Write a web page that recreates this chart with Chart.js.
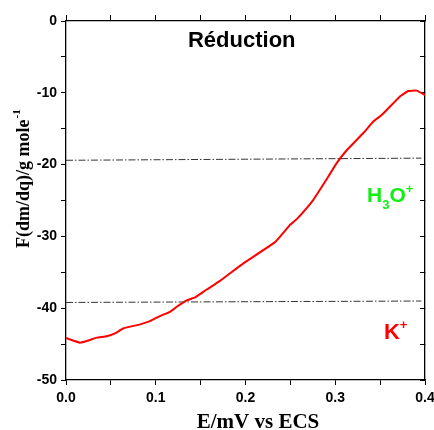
<!DOCTYPE html>
<html>
<head>
<meta charset="utf-8">
<script src="https://cdn.jsdelivr.net/npm/chart.js@4"></script>
<style>
  html, body { margin: 0; padding: 0; background: #fff; }
  canvas { display: block; }
</style>
</head>
<body>
<canvas id="chart" width="434" height="430"></canvas>
<script>
// curve (E in V, F in g/mol)
const curveE = [0.000, 0.0156, 0.0249, 0.0342, 0.0453, 0.0546, 0.0641, 0.0825, 0.0936, 0.1047,
                0.1159, 0.1234, 0.1345, 0.1438, 0.1568, 0.1716, 0.1976, 0.2329, 0.2496, 0.2571,
                0.2756, 0.2886, 0.3016, 0.3128, 0.3313, 0.3424, 0.3517, 0.3721, 0.3814, 0.3908, 0.4000];
const curveF = [-44.15, -44.8, -44.5, -44.1, -43.9, -43.5, -42.8, -42.25, -41.8, -41.1,
                -40.5, -39.8, -38.9, -38.5, -37.4, -36.2, -33.75, -30.8, -28.4, -27.6,
                -24.9, -22.4, -19.8, -18.0, -15.6, -14.0, -13.1, -10.5, -9.75, -9.7, -10.3];

// dash-dot reference levels
const levelE = [0, 0.396];
const levelH3O = [-19.4, -19.1];
const levelK = [-39.2, -39.0];

const xTicks = { min: 0, max: 0.4, step: 0.05 };
const yTicks = { min: -50, max: 0, step: 5 };

const toPoints = (xs, ys) => xs.map((x, i) => ({ x: x, y: ys[i] }));

const tickFont = { family: 'Liberation Sans, Arial, sans-serif', size: 14, weight: 'bold' };

// titles and labels drawn on top, placed with the scales
const textPlugin = {
  id: 'texts',
  afterDraw(chart) {
    const ctx = chart.ctx;
    const xs = chart.scales.x;
    const ys = chart.scales.y;
    ctx.save();
    ctx.textBaseline = 'alphabetic';

    // Réduction
    ctx.fillStyle = '#000';
    ctx.font = 'bold 22px Liberation Sans, Arial, sans-serif';
    ctx.textAlign = 'center';
    ctx.fillText('Réduction', xs.getPixelForValue(0.1958), ys.getPixelForValue(-3.62));

    // H3O+
    ctx.textAlign = 'left';
    ctx.fillStyle = '#11ee11';
    let x = xs.getPixelForValue(0.3354);
    let y = ys.getPixelForValue(-25.2);
    ctx.font = 'bold 21px Liberation Sans, Arial, sans-serif';
    ctx.fillText('H', x, y);
    x += ctx.measureText('H').width;
    ctx.font = 'bold 13px Liberation Sans, Arial, sans-serif';
    ctx.fillText('3', x, y + 7);
    x += ctx.measureText('3').width;
    ctx.font = 'bold 21px Liberation Sans, Arial, sans-serif';
    ctx.fillText('O', x, y);
    x += ctx.measureText('O').width;
    ctx.font = 'bold 13px Liberation Sans, Arial, sans-serif';
    ctx.fillText('+', x, y - 9);

    // K+
    ctx.fillStyle = '#ff0000';
    x = xs.getPixelForValue(0.3543);
    y = ys.getPixelForValue(-44.3);
    ctx.font = 'bold 22px Liberation Sans, Arial, sans-serif';
    ctx.fillText('K', x, y);
    x += ctx.measureText('K').width;
    ctx.font = 'bold 13px Liberation Sans, Arial, sans-serif';
    ctx.fillText('+', x, y - 10);

    // x axis title
    ctx.fillStyle = '#000';
    ctx.textAlign = 'center';
    ctx.font = 'bold 21px Liberation Serif, Times New Roman, serif';
    ctx.fillText('E/mV vs ECS', 258, 428);

    // y axis title, rotated, with superscript
    ctx.translate(29, 248);
    ctx.rotate(-Math.PI / 2);
    ctx.textAlign = 'left';
    ctx.font = 'bold 18px Liberation Serif, Times New Roman, serif';
    const main = 'F(dm/dq)/g mole';
    ctx.fillText(main, 0, 0);
    const w = ctx.measureText(main).width;
    ctx.font = 'bold 11px Liberation Serif, Times New Roman, serif';
    ctx.fillText('-1', w + 1, -9);

    ctx.restore();
  }
};

const isMultiple = (v, m) => Math.abs(v / m - Math.round(v / m)) < 1e-6;

// fixed box sizes so the plot frame lands where the reference has it
const fixX = h => s => { s.height = h; s.paddingLeft = 0; s.paddingRight = 0; };
const fixY = w => s => { s.width = w; s.paddingTop = 0; s.paddingBottom = 0; };

new Chart(document.getElementById('chart'), {
  type: 'line',
  data: {
    datasets: [
      {
        data: toPoints(curveE, curveF),
        borderColor: '#ff0000',
        borderWidth: 2,
        pointRadius: 0,
        tension: 0.1,
        fill: false
      },
      {
        data: toPoints(levelE, levelH3O),
        borderColor: '#333',
        borderWidth: 1,
        borderDash: [7, 2, 1.5, 2],
        pointRadius: 0,
        fill: false
      },
      {
        data: toPoints(levelE, levelK),
        borderColor: '#333',
        borderWidth: 1,
        borderDash: [7, 2, 1.5, 2],
        pointRadius: 0,
        fill: false
      }
    ]
  },
  options: {
    responsive: false,
    animation: false,
    devicePixelRatio: 1,
    layout: { padding: 0 },
    plugins: { legend: { display: false }, tooltip: { enabled: false } },
    scales: {
      x: {
        type: 'linear', position: 'bottom',
        min: xTicks.min, max: xTicks.max,
        border: { display: true, color: '#000', width: 1.3 },
        grid: { drawOnChartArea: false, tickLength: 5, color: '#000', lineWidth: 1 },
        ticks: {
          stepSize: xTicks.step, autoSkip: false, maxRotation: 0, padding: 5,
          color: '#000', font: tickFont,
          callback: v => isMultiple(v, 0.1) ? v.toFixed(1) : ''
        },
        afterFit: fixX(50)
      },
      x2: {
        type: 'linear', position: 'top',
        min: xTicks.min, max: xTicks.max,
        border: { display: true, color: '#000', width: 1.3 },
        grid: { drawOnChartArea: false, tickLength: 6, color: '#000', lineWidth: 1 },
        ticks: { stepSize: xTicks.step, autoSkip: false, display: false },
        afterFit: fixX(21)
      },
      y: {
        type: 'linear', position: 'left',
        min: yTicks.min, max: yTicks.max,
        border: { display: true, color: '#000', width: 1.3 },
        grid: { drawOnChartArea: false, tickLength: 5, color: '#000', lineWidth: 1 },
        ticks: {
          stepSize: yTicks.step, autoSkip: false, padding: 4,
          color: '#000', font: tickFont,
          callback: v => isMultiple(v, 10) ? String(v) : ''
        },
        afterFit: fixY(66)
      },
      y2: {
        type: 'linear', position: 'right',
        min: yTicks.min, max: yTicks.max,
        border: { display: true, color: '#000', width: 1.3 },
        grid: { drawOnChartArea: false, tickLength: -5, color: '#000', lineWidth: 1 },
        ticks: { stepSize: yTicks.step, autoSkip: false, display: false },
        afterFit: fixY(9)
      }
    }
  },
  plugins: [textPlugin]
});
</script>
</body>
</html>
